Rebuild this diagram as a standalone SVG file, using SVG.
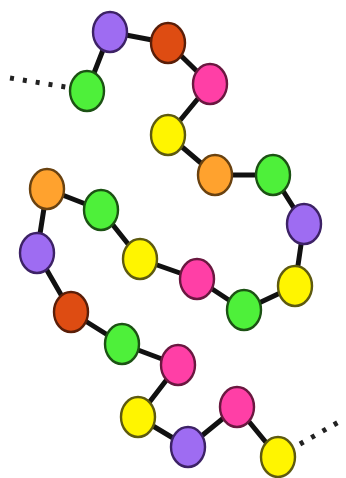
<svg xmlns="http://www.w3.org/2000/svg" width="346" height="478" viewBox="0 0 346 478">
<style>
.bg{fill:#ffffff}
.c line{stroke:#111;stroke-width:5;stroke-linecap:round}
.c line.dots{stroke:#222;stroke-width:5;stroke-dasharray:4 9;stroke-linecap:butt}
ellipse{stroke-width:2.4}
.pu{fill:#9e6cf2;stroke:#3d2266}
.rd{fill:#de4c12;stroke:#5a1e08}
.pk{fill:#ff3fa6;stroke:#6a1840}
.gr{fill:#4ef03a;stroke:#1c5214}
.ye{fill:#fff500;stroke:#5e5a10}
.or{fill:#ffa22e;stroke:#6a4210}
</style>
<rect class="bg" width="346" height="478"/>
<g id="connectors" class="c">
<line class="dots" x1="10" y1="78" x2="72" y2="88"/>
<line class="dots" x1="300" y1="444" x2="344" y2="419"/>
<line x1="87" y1="91" x2="110" y2="32"/>
<line x1="110" y1="32" x2="168" y2="43"/>
<line x1="168" y1="43" x2="210" y2="84"/>
<line x1="210" y1="84" x2="168" y2="135"/>
<line x1="168" y1="135" x2="215" y2="175"/>
<line x1="215" y1="175" x2="273" y2="175"/>
<line x1="273" y1="175" x2="304" y2="224"/>
<line x1="304" y1="224" x2="295" y2="286"/>
<line x1="295" y1="286" x2="244" y2="310"/>
<line x1="244" y1="310" x2="197" y2="279"/>
<line x1="197" y1="279" x2="140" y2="259"/>
<line x1="140" y1="259" x2="101" y2="210"/>
<line x1="101" y1="210" x2="47" y2="189"/>
<line x1="47" y1="189" x2="37" y2="253"/>
<line x1="37" y1="253" x2="71" y2="312"/>
<line x1="71" y1="312" x2="122" y2="344"/>
<line x1="122" y1="344" x2="178" y2="365"/>
<line x1="178" y1="365" x2="138" y2="417"/>
<line x1="138" y1="417" x2="188" y2="447"/>
<line x1="188" y1="447" x2="237" y2="407"/>
<line x1="237" y1="407" x2="278" y2="457"/>
</g>
<g id="n1"><ellipse class="gr" cx="87" cy="91" rx="17" ry="20"/></g>
<g id="n2"><ellipse class="pu" cx="110" cy="32" rx="17" ry="20"/></g>
<g id="n3"><ellipse class="rd" cx="168" cy="43" rx="17" ry="20"/></g>
<g id="n4"><ellipse class="pk" cx="210" cy="84" rx="17" ry="20"/></g>
<g id="n5"><ellipse class="ye" cx="168" cy="135" rx="17" ry="20"/></g>
<g id="n6"><ellipse class="or" cx="215" cy="175" rx="17" ry="20"/></g>
<g id="n7"><ellipse class="gr" cx="273" cy="175" rx="17" ry="20"/></g>
<g id="n8"><ellipse class="pu" cx="304" cy="224" rx="17" ry="20"/></g>
<g id="n9"><ellipse class="ye" cx="295" cy="286" rx="17" ry="20"/></g>
<g id="n10"><ellipse class="gr" cx="244" cy="310" rx="17" ry="20"/></g>
<g id="n11"><ellipse class="pk" cx="197" cy="279" rx="17" ry="20"/></g>
<g id="n12"><ellipse class="ye" cx="140" cy="259" rx="17" ry="20"/></g>
<g id="n13"><ellipse class="gr" cx="101" cy="210" rx="17" ry="20"/></g>
<g id="n14"><ellipse class="or" cx="47" cy="189" rx="17" ry="20"/></g>
<g id="n15"><ellipse class="pu" cx="37" cy="253" rx="17" ry="20"/></g>
<g id="n16"><ellipse class="rd" cx="71" cy="312" rx="17" ry="20"/></g>
<g id="n17"><ellipse class="gr" cx="122" cy="344" rx="17" ry="20"/></g>
<g id="n18"><ellipse class="pk" cx="178" cy="365" rx="17" ry="20"/></g>
<g id="n19"><ellipse class="ye" cx="138" cy="417" rx="17" ry="20"/></g>
<g id="n20"><ellipse class="pu" cx="188" cy="447" rx="17" ry="20"/></g>
<g id="n21"><ellipse class="pk" cx="237" cy="407" rx="17" ry="20"/></g>
<g id="n22"><ellipse class="ye" cx="278" cy="457" rx="17" ry="20"/></g>
</svg>
